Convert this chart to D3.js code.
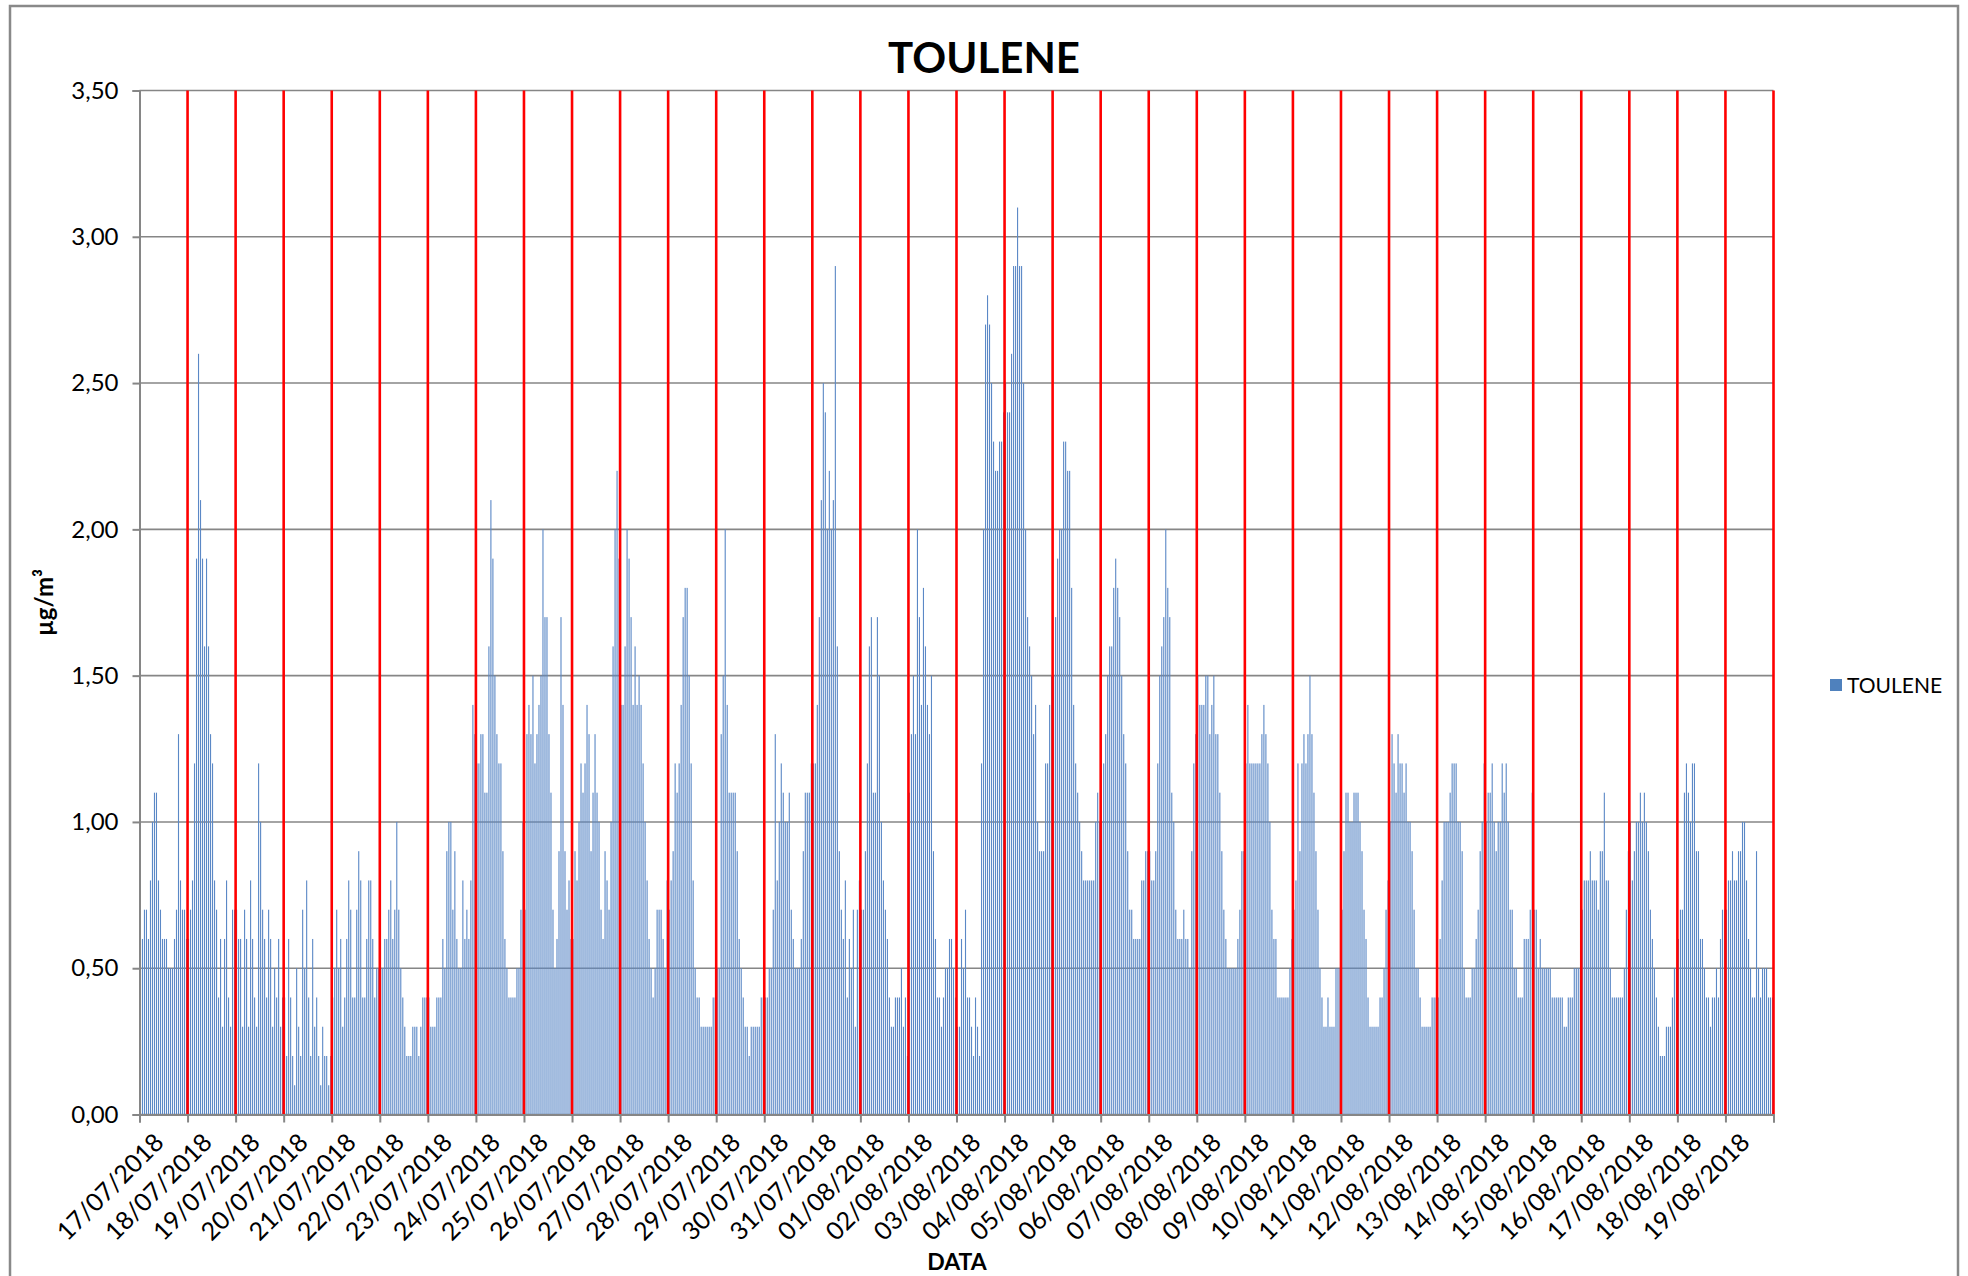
<!DOCTYPE html>
<html>
<head>
<meta charset="utf-8">
<script src="https://cdn.jsdelivr.net/npm/d3@7"></script>
<style>
  html, body { margin: 0; padding: 0; background: #ffffff; }
  svg { display: block; }
  text { font-family: Lato, "Open Sans", "Liberation Sans", sans-serif; fill: #000; }
</style>
</head>
<body>
<svg id="chart" width="1968" height="1276"></svg>
<script>
// ---------------- DATA ----------------
const chartTitle = "TOULENE";
const seriesName = "TOULENE";
const xTitle = "DATA";
const yTitle = "µg/m³";

const dates = [
  "17/07/2018","18/07/2018","19/07/2018","20/07/2018","21/07/2018","22/07/2018","23/07/2018",
  "24/07/2018","25/07/2018","26/07/2018","27/07/2018","28/07/2018","29/07/2018","30/07/2018",
  "31/07/2018","01/08/2018","02/08/2018","03/08/2018","04/08/2018","05/08/2018","06/08/2018",
  "07/08/2018","08/08/2018","09/08/2018","10/08/2018","11/08/2018","12/08/2018","13/08/2018",
  "14/08/2018","15/08/2018","16/08/2018","17/08/2018","18/08/2018","19/08/2018"
];

// hourly values (24 per day), µg/m³
const hourly = [
  [0.6,0.6,0.7,0.7,0.6,0.8,1.0,1.1,1.1,0.8,0.7,0.6,0.6,0.6,0.5,0.5,0.5,0.6,0.7,1.3,0.8,0.7,0.7,0.6],
  [0.6,0.7,0.8,1.2,1.9,2.6,2.1,1.9,1.6,1.9,1.6,1.3,1.2,0.8,0.7,0.4,0.6,0.3,0.6,0.8,0.4,0.3,0.7,0.7],
  [0.7,0.6,0.6,0.3,0.7,0.6,0.3,0.8,0.6,0.4,0.3,1.2,1.0,0.7,0.6,0.4,0.7,0.6,0.3,0.5,0.4,0.6,0.3,0.4],
  [0.4,0.2,0.6,0.4,0.2,0.1,0.5,0.3,0.2,0.7,0.5,0.8,0.4,0.2,0.6,0.3,0.4,0.2,0.1,0.3,0.2,0.2,0.1,0.2],
  [0.4,0.5,0.7,0.5,0.6,0.3,0.4,0.6,0.8,0.7,0.4,0.4,0.7,0.9,0.8,0.4,0.4,0.6,0.8,0.8,0.6,0.4,0.5,0.5],
  [0.5,0.5,0.6,0.6,0.7,0.8,0.6,0.7,1.0,0.7,0.5,0.4,0.3,0.2,0.2,0.2,0.3,0.3,0.3,0.2,0.3,0.4,0.4,0.4],
  [0.4,0.3,0.3,0.3,0.4,0.4,0.4,0.6,0.5,0.9,1.0,1.0,0.7,0.9,0.6,0.5,0.5,0.8,0.6,0.7,0.6,0.8,1.4,1.3],
  [1.2,1.2,1.3,1.3,1.1,1.1,1.6,2.1,1.9,1.5,1.3,1.2,1.2,0.9,0.6,0.5,0.4,0.4,0.4,0.4,0.5,0.5,0.7,1.0],
  [0.7,1.3,1.4,1.3,1.5,1.2,1.3,1.4,1.5,2.0,1.7,1.7,1.3,1.1,0.7,0.5,0.6,0.9,1.7,1.4,0.9,0.7,0.8,0.6],
  [0.6,0.9,0.8,1.0,1.2,1.1,1.2,1.4,1.3,0.9,1.1,1.3,1.1,1.0,0.7,0.6,0.9,0.8,0.7,1.0,1.6,2.0,2.2,1.9],
  [1.4,1.4,1.6,2.0,1.9,1.7,1.4,1.6,1.4,1.5,1.4,1.2,1.0,0.8,0.6,0.5,0.4,0.5,0.7,0.7,0.7,0.6,0.5,0.8],
  [0.7,0.8,0.9,1.2,1.1,1.2,1.4,1.7,1.8,1.8,1.5,1.2,0.8,0.5,0.4,0.4,0.3,0.3,0.3,0.3,0.3,0.3,0.4,0.4],
  [0.5,0.5,1.3,1.5,2.0,1.4,1.1,1.1,1.1,1.1,0.9,0.6,0.5,0.4,0.3,0.3,0.2,0.3,0.3,0.3,0.3,0.3,0.4,0.4],
  [0.4,0.4,0.5,0.5,0.7,1.3,0.8,1.0,1.2,1.1,1.0,1.0,1.1,0.7,0.6,0.5,0.5,0.5,0.6,0.9,1.1,1.1,1.1,1.2],
  [1.2,1.2,1.4,1.7,2.1,2.5,2.4,2.0,2.2,2.0,2.1,2.9,1.6,0.9,0.7,0.6,0.8,0.4,0.6,0.5,0.7,0.3,0.7,0.8],
  [0.7,0.7,0.9,1.2,1.6,1.7,1.1,1.1,1.7,1.5,1.0,0.8,0.7,0.6,0.4,0.3,0.3,0.4,0.4,0.4,0.5,0.3,0.4,0.2],
  [1.1,1.3,1.5,1.3,2.0,1.7,1.4,1.8,1.6,1.4,1.3,1.5,0.9,0.6,0.4,0.4,0.3,0.4,0.5,0.5,0.6,0.6,0.5,0.4],
  [0.3,0.3,0.6,0.5,0.7,0.4,0.4,0.3,0.2,0.4,0.3,0.2,1.2,2.0,2.7,2.8,2.7,2.5,2.3,2.2,2.2,2.3,2.3,2.4],
  [2.5,2.4,2.4,2.6,2.9,2.9,3.1,2.9,2.9,2.5,2.0,1.7,1.6,1.5,1.3,1.4,1.0,0.9,0.9,0.9,1.2,1.2,1.4,1.5],
  [1.5,1.7,1.9,2.0,2.0,2.3,2.3,2.2,2.2,1.8,1.4,1.2,1.1,1.0,0.9,0.8,0.8,0.8,0.8,0.8,0.8,1.0,1.1,1.0],
  [1.0,1.2,1.3,1.5,1.6,1.6,1.8,1.9,1.8,1.7,1.5,1.3,1.2,0.9,0.7,0.7,0.6,0.6,0.6,0.6,0.8,0.8,0.9,0.9],
  [0.9,0.8,0.8,0.9,1.2,1.5,1.6,1.7,2.0,1.8,1.7,1.1,1.0,0.7,0.6,0.6,0.6,0.7,0.6,0.6,0.5,0.9,1.2,1.3],
  [1.5,1.4,1.4,1.4,1.5,1.5,1.3,1.4,1.5,1.3,1.3,1.1,0.9,0.7,0.6,0.5,0.5,0.5,0.5,0.5,0.6,0.7,0.9,0.9],
  [1.2,1.4,1.2,1.2,1.2,1.2,1.2,1.2,1.3,1.4,1.3,1.2,1.0,0.7,0.6,0.6,0.4,0.4,0.4,0.4,0.4,0.4,0.5,0.6],
  [0.7,0.8,1.2,0.9,1.2,1.3,1.2,1.3,1.5,1.3,1.1,0.9,0.7,0.5,0.4,0.3,0.3,0.4,0.3,0.3,0.3,0.5,0.5,0.5],
  [0.7,0.9,1.1,1.1,1.0,1.0,1.1,1.1,1.1,1.0,0.9,0.7,0.6,0.4,0.3,0.3,0.3,0.3,0.3,0.4,0.4,0.5,0.7,0.8],
  [1.0,1.3,1.2,1.1,1.3,1.2,1.2,1.1,1.2,1.0,1.0,0.9,0.7,0.5,0.5,0.4,0.3,0.3,0.3,0.3,0.3,0.4,0.4,0.4],
  [0.4,0.6,0.8,1.0,1.0,1.0,1.1,1.2,1.2,1.2,1.0,1.0,0.9,0.5,0.4,0.4,0.4,0.5,0.5,0.6,0.7,0.9,1.0,1.2],
  [1.0,1.1,1.1,1.2,1.0,0.9,1.0,1.0,1.2,1.1,1.2,1.0,0.7,0.7,0.5,0.5,0.4,0.4,0.4,0.6,0.6,0.6,0.7,1.1],
  [0.7,0.7,0.5,0.6,0.5,0.5,0.5,0.5,0.5,0.4,0.4,0.4,0.4,0.4,0.4,0.3,0.3,0.4,0.4,0.4,0.5,0.5,0.5,0.5],
  [0.7,0.8,0.8,0.8,0.9,0.8,0.8,0.8,0.7,0.9,0.9,1.1,0.8,0.8,0.5,0.4,0.4,0.4,0.4,0.4,0.4,0.5,0.7,0.9],
  [1.0,0.8,0.9,1.0,1.0,1.1,1.0,1.1,1.0,0.9,0.7,0.6,0.5,0.4,0.3,0.2,0.2,0.2,0.3,0.3,0.3,0.4,0.5,0.5],
  [0.6,0.7,0.7,1.1,1.2,1.1,1.0,1.2,1.2,0.9,0.9,0.6,0.6,0.5,0.4,0.4,0.3,0.4,0.4,0.5,0.4,0.6,0.7,0.7],
  [0.7,0.8,0.8,0.9,0.8,0.8,0.9,0.9,1.0,1.0,0.8,0.6,0.5,0.4,0.4,0.9,0.5,0.4,0.5,0.5,0.5,0.4,0.4,0.4]
];

const yTicks = [0, 0.5, 1, 1.5, 2, 2.5, 3, 3.5];

// ---------------- LAYOUT ----------------
const W = 1968, H = 1276;
const plot = { left: 139.5, right: 1773.5, top: 90.5, bottom: 1114.5 };

const svg = d3.select("#chart");

// outer chart border
svg.append("rect")
  .attr("x", 10).attr("y", 6)
  .attr("width", 1948).attr("height", 1290)
  .attr("fill", "#fff").attr("stroke", "#898989").attr("stroke-width", 2.5);

const values = hourly.flat();
const nDays = dates.length;

const xDay = d3.scaleLinear().domain([0, nDays]).range([plot.left, plot.right]);
const xBar = d3.scaleBand().domain(d3.range(values.length))
  .range([plot.left, plot.right]).paddingInner(0.45).paddingOuter(0.2);
const y = d3.scaleLinear().domain([0, 3.5]).range([plot.bottom, plot.top]);

// horizontal gridlines
svg.append("g")
  .selectAll("line").data(yTicks).join("line")
  .attr("x1", plot.left).attr("x2", plot.right)
  .attr("y1", d => y(d)).attr("y2", d => y(d))
  .attr("stroke", "#868686").attr("stroke-width", 1.6);

// bars
svg.append("g")
  .selectAll("rect").data(values).join("rect")
  .attr("x", (d, i) => xBar(i))
  .attr("width", xBar.bandwidth())
  .attr("y", d => y(d))
  .attr("height", d => y(0) - y(d))
  .attr("fill", "#5b88c6");

// red day separators
svg.append("g")
  .selectAll("line").data(d3.range(1, nDays + 1)).join("line")
  .attr("x1", d => xDay(d)).attr("x2", d => xDay(d))
  .attr("y1", plot.top).attr("y2", plot.bottom)
  .attr("stroke", "#ff0000").attr("stroke-width", 2.6);

// y axis
const yAxis = d3.axisLeft(y).tickValues(yTicks).tickSize(7).tickPadding(14)
  .tickFormat(d => d3.format(".2f")(d).replace(".", ","));
const gy = svg.append("g").attr("transform", `translate(${plot.left},0)`).call(yAxis);
gy.select(".domain").attr("stroke", "#868686").attr("stroke-width", 2);
gy.selectAll(".tick line").attr("stroke", "#868686").attr("stroke-width", 2);
gy.selectAll(".tick text").attr("font-size", 24).attr("font-family", "Lato, sans-serif").attr("fill", "#000");

// x axis
const xAxis = d3.axisBottom(xDay).tickValues(d3.range(0, nDays + 1)).tickSize(8)
  .tickFormat(d => dates[d] || "");
const gx = svg.append("g").attr("transform", `translate(0,${plot.bottom})`).call(xAxis);
gx.select(".domain").attr("stroke", "#868686").attr("stroke-width", 2);
gx.selectAll(".tick line").attr("stroke", "#868686").attr("stroke-width", 2);
gx.selectAll(".tick text")
  .attr("font-size", 25).attr("font-family", "Lato, sans-serif").attr("fill", "#000")
  .attr("text-anchor", "end")
  .attr("transform", "translate(13,17) rotate(-45)")
  .attr("dy", "0.7em").attr("y", 0).attr("x", 0);

// title
svg.append("text")
  .attr("x", 984).attr("y", 73)
  .attr("text-anchor", "middle")
  .attr("font-size", 42).attr("font-weight", "bold")
  .text(chartTitle);

// x title
svg.append("text")
  .attr("x", 957).attr("y", 1270)
  .attr("text-anchor", "middle")
  .attr("font-size", 23).attr("font-weight", "bold")
  .text(xTitle);

// y title
svg.append("text")
  .attr("transform", `translate(53,${(plot.top + plot.bottom) / 2}) rotate(-90)`)
  .attr("text-anchor", "middle")
  .attr("font-size", 24).attr("font-weight", "bold")
  .text(yTitle);

// legend
const lg = svg.append("g").attr("transform", "translate(1830,679)");
lg.append("rect").attr("width", 12).attr("height", 12).attr("fill", "#4f81bd");
lg.append("text").attr("x", 17).attr("y", 6).attr("dy", "0.36em")
  .attr("font-size", 21).text(seriesName);
</script>
</body>
</html>
